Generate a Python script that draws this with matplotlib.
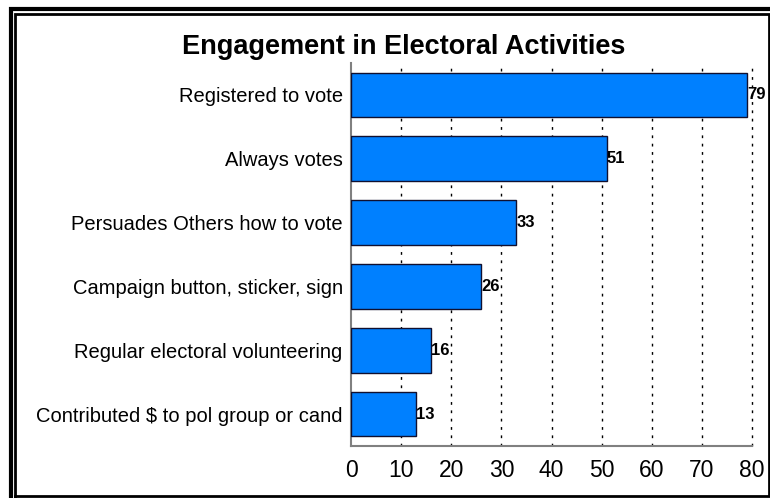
import matplotlib.pyplot as plt
from matplotlib.lines import Line2D

categories = ["Registered to vote", "Always votes", "Persuades Others how to vote",
              "Campaign button, sticker, sign", "Regular electoral volunteering",
              "Contributed $ to pol group or cand"]
values = [79, 51, 33, 26, 16, 13]
xticks = [0, 10, 20, 30, 40, 50, 60, 70, 80]

plt.rcParams['font.family'] = ['Liberation Sans', 'DejaVu Sans']

W, H = 770, 498
fig = plt.figure(figsize=(W / 100, H / 100), dpi=100)
ax = fig.add_axes([351 / W, (H - 446) / H, (752 - 351) / W, (446 - 63) / H])

ypos = list(range(len(categories)))[::-1]
ax.barh(ypos, values, height=0.7, color='#0080ff', edgecolor='#101030', linewidth=1.0, zorder=3)
for y, v in zip(ypos, values):
    ax.text(v + 0.05, y, str(v), va='center', ha='left', fontsize=12, fontweight='bold', zorder=4)

ax.set_xlim(0, 80)
ax.set_ylim(-0.5, len(categories) - 0.5)
ax.set_xticks(xticks)
ax.set_xticklabels([str(t) for t in xticks], fontsize=16.5)
ax.set_yticks(ypos)
ax.set_yticklabels(categories, fontsize=14.5)
ax.tick_params(axis='both', length=0, pad=6)
ax.tick_params(axis='x', pad=9)

# dotted vertical grid, the last one sits on the axes edge
for t in xticks[1:]:
    ax.axvline(t, color='black', linestyle=(0, (2, 4)), linewidth=1.0, zorder=1, clip_on=False)

for s in ['top', 'right']:
    ax.spines[s].set_visible(False)
for s in ['left', 'bottom']:
    ax.spines[s].set_color('#808080')
    ax.spines[s].set_linewidth(1.5)

fig.text(404 / W, 1 - 47 / H, "Engagement in Electoral Activities", ha='center', va='center',
         fontsize=19.5, fontweight='bold')

# double frame around the picture
def px(x, y):
    return x / W, 1 - y / H

outer = [px(10.5, H), px(10.5, 9.5), px(W, 9.5)]
fig.add_artist(Line2D([p[0] for p in outer], [p[1] for p in outer], color='black',
                      linewidth=3.0, solid_joinstyle='miter'))
inner = [px(15, 495.5), px(15, 14.5), px(768.8, 14.5), px(768.8, 495.5), px(15, 495.5)]
fig.add_artist(Line2D([p[0] for p in inner], [p[1] for p in inner], color='black',
                      linewidth=2.0, solid_joinstyle='miter'))

fig.savefig('out.png', dpi=100)
